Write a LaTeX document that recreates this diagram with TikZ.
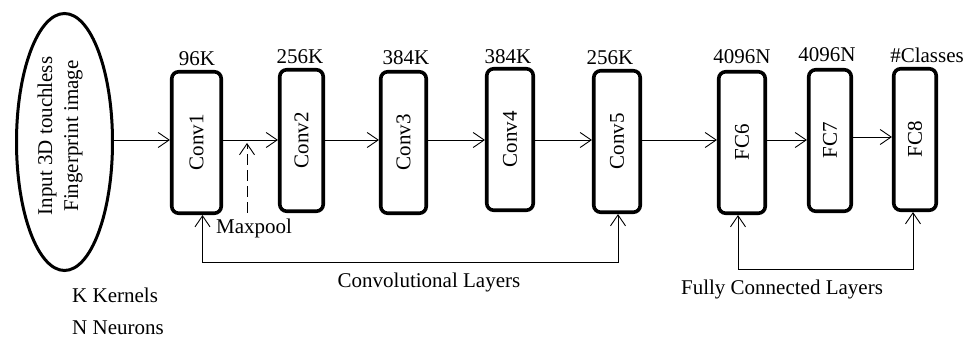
\documentclass[tikz,border=0pt]{standalone}
\usepackage{fontspec}
\setmainfont{Liberation Serif}
\usetikzlibrary{arrows.meta,shapes.geometric,calc}
\begin{document}
\begin{tikzpicture}[x=1pt,y=-1pt,
  every node/.style={font=\fontsize{21}{26}\selectfont},
  layer/.style={draw, line width=3.6pt, rounded corners=7pt, inner sep=0pt,
     minimum height=141.5pt},
  lbl/.style={inner sep=0pt, anchor=center},
  conn/.style={line width=0.9pt, -{Straight Barb[length=11pt,width=15pt,line width=0.9pt]}},
  bconn/.style={line width=0.9pt, {Straight Barb[length=11pt,width=15pt,line width=0.9pt]}-{Straight Barb[length=11pt,width=15pt,line width=0.9pt]}}
]
\useasboundingbox (0,0) rectangle (978,339);

% input ellipse
\node[ellipse, draw, line width=3pt, minimum width=96pt, minimum height=257pt, inner sep=0pt] (in) at (64.5,142) {};
\node[rotate=90, align=center, inner sep=0pt] (intext) at (60,136) {Input 3D touchless\\Fingerprint image};

% layers
\node[layer, minimum width=49.5pt] (c1) at (196.5,142.5) {\rotatebox{90}{Conv1}};
\node[layer, minimum width=43.5pt] (c2) at (301.5,140.5) {\rotatebox{90}{Conv2}};
\node[layer, minimum width=45.5pt] (c3) at (403.5,142.5) {\rotatebox{90}{Conv3}};
\node[layer, minimum width=46.5pt] (c4) at (510,139.5) {\rotatebox{90}{Conv4}};
\node[layer, minimum width=46.5pt] (c5) at (617,141.5) {\rotatebox{90}{Conv5}};
\node[layer, minimum width=46.5pt] (f6) at (742,142.5) {\rotatebox{90}{FC6}};
\node[layer, minimum width=42.5pt] (f7) at (830,140.5) {\rotatebox{90}{FC7}};
\node[layer, minimum width=42.5pt] (f8) at (915,139.5) {\rotatebox{90}{FC8}};

% labels above
\node[lbl] (l1) at (197,59) {96K};
\node[lbl] (l2) at (300,57) {256K};
\node[lbl] (l3) at (406,58) {384K};
\node[lbl] (l4) at (508,57) {384K};
\node[lbl] (l5) at (610,58) {256K};
\node[lbl] (l6) at (742,57) {4096N};
\node[lbl] (l7) at (827,55) {4096N};
\node[lbl] (l8) at (927,55) {\#Classes};

% horizontal flow
\coordinate (ya) at (0,140);
\coordinate (yb) at (0,137);
\draw[conn] (in.east |- ya) -- (c1.west |- ya);
\draw[conn] (c1.east |- ya) -- (c2.west |- ya);
\draw[conn] (c2.east |- ya) -- (c3.west |- ya);
\draw[conn] (c3.east |- ya) -- (c4.west |- ya);
\draw[conn] (c4.east |- ya) -- (c5.west |- ya);
\draw[conn] (c5.east |- ya) -- (f6.west |- ya);
\draw[conn] (f6.east |- ya) -- (f7.west |- ya);
\draw[conn] (f7.east |- yb) -- (f8.west |- yb);

% maxpool
\coordinate (mpb) at (247,213);
\coordinate (mpt) at (247,143);
\draw[conn, dash pattern=on 11pt off 5pt] (mpb) -- (mpt);
\node[inner sep=0pt, anchor=west] (mp) at (216,228) {Maxpool};

% brackets
\coordinate (cb1) at (202.5,262);
\coordinate (cb2) at (618,262);
\draw[bconn] (c1.south -| cb1) -- (cb1) -- (cb2) -- (c5.south -| cb2);
\node[lbl] (convl) at (429,282) {Convolutional Layers};

\coordinate (fb1) at (738,269);
\coordinate (fb2) at (913,269);
\draw[bconn] (f6.south -| fb1) -- (fb1) -- (fb2) -- (f8.south -| fb2);
\node[lbl] (fcl) at (782,289) {Fully Connected Layers};

% legend
\node[inner sep=0pt, anchor=west] (kk) at (72,295) {K Kernels};
\node[inner sep=0pt, anchor=west] (nn) at (72,328) {N Neurons};
\end{tikzpicture}
\end{document}
